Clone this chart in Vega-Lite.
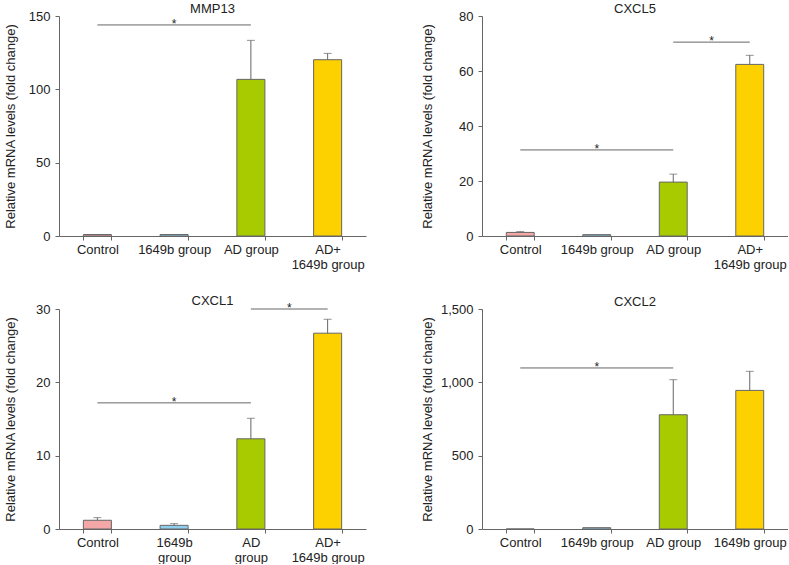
{
  "$schema": "https://vega.github.io/schema/vega-lite/v6.json",
  "padding": {"left": 3, "top": 3, "right": 0, "bottom": 0},
  "autosize": {"type": "pad"},
  "config": {
    "font": "Liberation Sans",
    "view": {"stroke": null},
    "axis": {"domainColor": "#666", "tickColor": "#666", "labelColor": "#222", "titleColor": "#222", "labelFontSize": 13, "titleFontSize": 13, "titleFontWeight": "normal", "grid": false, "tickSize": 4, "labelFont": "Liberation Sans", "titleFont": "Liberation Sans"},
    "title": {"fontSize": 13, "fontWeight": "normal", "color": "#222", "offset": -6, "frame": "group", "font": "Liberation Sans"}
  },
  "datasets": {
    "bars": [
      {"panel": "MMP13", "group": "Control", "mean": 1.0, "hi": null},
      {"panel": "MMP13", "group": "1649b", "mean": 1.0, "hi": null},
      {"panel": "MMP13", "group": "AD", "mean": 106.8, "hi": 133.4},
      {"panel": "MMP13", "group": "AD+", "mean": 120.2, "hi": 124.5},
      {"panel": "CXCL5", "group": "Control", "mean": 1.3, "hi": 1.6},
      {"panel": "CXCL5", "group": "1649b", "mean": 0.5, "hi": null},
      {"panel": "CXCL5", "group": "AD", "mean": 19.6, "hi": 22.5},
      {"panel": "CXCL5", "group": "AD+", "mean": 62.4, "hi": 65.7},
      {"panel": "CXCL1", "group": "Control", "mean": 1.19, "hi": 1.55},
      {"panel": "CXCL1", "group": "1649b", "mean": 0.5, "hi": 0.73},
      {"panel": "CXCL1", "group": "AD", "mean": 12.3, "hi": 15.1},
      {"panel": "CXCL1", "group": "AD+", "mean": 26.7, "hi": 28.6},
      {"panel": "CXCL2", "group": "Control", "mean": 0, "hi": null},
      {"panel": "CXCL2", "group": "1649b", "mean": 9, "hi": null},
      {"panel": "CXCL2", "group": "AD", "mean": 779, "hi": 1018},
      {"panel": "CXCL2", "group": "AD+", "mean": 945, "hi": 1075}
    ],
    "sig": [
      {"panel": "MMP13", "from": "Control", "to": "AD", "y": 143.9, "mid": 1},
      {"panel": "CXCL5", "from": "Control", "to": "AD", "y": 31.3, "mid": 1},
      {"panel": "CXCL5", "from": "AD", "to": "AD+", "y": 70.5, "mid": 2.5},
      {"panel": "CXCL1", "from": "Control", "to": "AD", "y": 17.2, "mid": 1},
      {"panel": "CXCL1", "from": "AD", "to": "AD+", "y": 30, "mid": 2.5},
      {"panel": "CXCL2", "from": "Control", "to": "AD", "y": 1098, "mid": 1}
    ]
  },
  "columns": 2,
  "bounds": "flush",
  "spacing": {"row": 73, "column": 116},
  "concat": [
    {
      "title": "MMP13",
      "width": 307, "height": 220,
      "resolve": {"scale": {"x": "independent"}},
      "layer": [
        {
          "layer": [
            {
              "data": {"name": "bars"},
              "transform": [{"filter": "datum.panel == 'MMP13'"}],
              "mark": {"type": "bar", "stroke": "#666", "strokeWidth": 1},
              "encoding": {
                "x": {"field": "group", "type": "nominal", "scale": {"domain": ["Control", "1649b", "AD", "AD+"], "paddingInner": 0.635, "paddingOuter": 0.3175},
                  "axis": {"title": null, "labelAngle": 0, "tickBand": "extent", "labelPadding": 3, "labelLineHeight": 15,
                    "labelExpr": "split(({'Control': 'Control', '1649b': '1649b group', 'AD': 'AD group', 'AD+': 'AD+|1649b group'})[datum.value] || '', '|')"}},
                "y": {"field": "mean", "type": "quantitative", "scale": {"domain": [0, 150], "nice": false}, "title": "Relative mRNA levels (fold change)",
                  "axis": {"values": [0, 50, 100, 150], "labelPadding": 5, "titleX": -49, "titleBaseline": "middle"}},
                "color": {"field": "group", "type": "nominal", "scale": {"domain": ["Control", "1649b", "AD", "AD+"], "range": ["#f4a7a7", "#8ecfef", "#a8cb00", "#fdd000"]}, "legend": null}
              }
            },
            {
              "data": {"name": "bars"},
              "transform": [{"filter": "datum.panel == 'MMP13' && datum.hi != null"}],
              "mark": {"type": "rule", "color": "#666"},
              "encoding": {
                "x": {"field": "group", "type": "nominal"},
                "y": {"field": "mean", "type": "quantitative", "scale": {"domain": [0, 150], "nice": false}, "title": "Relative mRNA levels (fold change)"},
                "y2": {"field": "hi"}
              }
            },
            {
              "data": {"name": "bars"},
              "transform": [{"filter": "datum.panel == 'MMP13' && datum.hi != null"}],
              "mark": {"type": "tick", "color": "#666", "size": 8, "thickness": 1},
              "encoding": {
                "x": {"field": "group", "type": "nominal"},
                "y": {"field": "hi", "type": "quantitative", "scale": {"domain": [0, 150], "nice": false}, "title": "Relative mRNA levels (fold change)"}
              }
            },
            {
              "data": {"name": "sig"},
              "transform": [{"filter": "datum.panel == 'MMP13'"}],
              "mark": {"type": "rule", "color": "#666"},
              "encoding": {
                "x": {"field": "from", "type": "nominal"},
                "x2": {"field": "to"},
                "y": {"field": "y", "type": "quantitative", "scale": {"domain": [0, 150], "nice": false}, "title": "Relative mRNA levels (fold change)"}
              }
            }
          ]
        },
        {
          "data": {"name": "sig"},
          "transform": [{"filter": "datum.panel == 'MMP13'"}],
          "mark": {"type": "text", "text": "*", "fontSize": 12, "baseline": "alphabetic", "dy": 3, "color": "#222"},
          "encoding": {
            "x": {"field": "mid", "type": "quantitative", "scale": {"domain": [-0.5, 3.5], "nice": false, "zero": false}, "axis": null},
            "y": {"field": "y", "type": "quantitative", "scale": {"domain": [0, 150], "nice": false}, "title": "Relative mRNA levels (fold change)"}
          }
        }
      ]
    },
    {
      "title": "CXCL5",
      "width": 306, "height": 220,
      "resolve": {"scale": {"x": "independent"}},
      "layer": [
        {
          "layer": [
            {
              "data": {"name": "bars"},
              "transform": [{"filter": "datum.panel == 'CXCL5'"}],
              "mark": {"type": "bar", "stroke": "#666", "strokeWidth": 1},
              "encoding": {
                "x": {"field": "group", "type": "nominal", "scale": {"domain": ["Control", "1649b", "AD", "AD+"], "paddingInner": 0.635, "paddingOuter": 0.3175},
                  "axis": {"title": null, "labelAngle": 0, "tickBand": "extent", "labelPadding": 3, "labelLineHeight": 15,
                    "labelExpr": "split(({'Control': 'Control', '1649b': '1649b group', 'AD': 'AD group', 'AD+': 'AD+|1649b group'})[datum.value] || '', '|')"}},
                "y": {"field": "mean", "type": "quantitative", "scale": {"domain": [0, 80], "nice": false}, "title": "Relative mRNA levels (fold change)",
                  "axis": {"values": [0, 20, 40, 60, 80], "labelPadding": 5, "titleX": -55, "titleBaseline": "middle"}},
                "color": {"field": "group", "type": "nominal", "scale": {"domain": ["Control", "1649b", "AD", "AD+"], "range": ["#f4a7a7", "#8ecfef", "#a8cb00", "#fdd000"]}, "legend": null}
              }
            },
            {
              "data": {"name": "bars"},
              "transform": [{"filter": "datum.panel == 'CXCL5' && datum.hi != null"}],
              "mark": {"type": "rule", "color": "#666"},
              "encoding": {
                "x": {"field": "group", "type": "nominal"},
                "y": {"field": "mean", "type": "quantitative", "scale": {"domain": [0, 80], "nice": false}, "title": "Relative mRNA levels (fold change)"},
                "y2": {"field": "hi"}
              }
            },
            {
              "data": {"name": "bars"},
              "transform": [{"filter": "datum.panel == 'CXCL5' && datum.hi != null"}],
              "mark": {"type": "tick", "color": "#666", "size": 8, "thickness": 1},
              "encoding": {
                "x": {"field": "group", "type": "nominal"},
                "y": {"field": "hi", "type": "quantitative", "scale": {"domain": [0, 80], "nice": false}, "title": "Relative mRNA levels (fold change)"}
              }
            },
            {
              "data": {"name": "sig"},
              "transform": [{"filter": "datum.panel == 'CXCL5'"}],
              "mark": {"type": "rule", "color": "#666"},
              "encoding": {
                "x": {"field": "from", "type": "nominal"},
                "x2": {"field": "to"},
                "y": {"field": "y", "type": "quantitative", "scale": {"domain": [0, 80], "nice": false}, "title": "Relative mRNA levels (fold change)"}
              }
            }
          ]
        },
        {
          "data": {"name": "sig"},
          "transform": [{"filter": "datum.panel == 'CXCL5'"}],
          "mark": {"type": "text", "text": "*", "fontSize": 12, "baseline": "alphabetic", "dy": 3, "color": "#222"},
          "encoding": {
            "x": {"field": "mid", "type": "quantitative", "scale": {"domain": [-0.5, 3.5], "nice": false, "zero": false}, "axis": null},
            "y": {"field": "y", "type": "quantitative", "scale": {"domain": [0, 80], "nice": false}, "title": "Relative mRNA levels (fold change)"}
          }
        }
      ]
    },
    {
      "title": "CXCL1",
      "width": 307, "height": 220,
      "resolve": {"scale": {"x": "independent"}},
      "layer": [
        {
          "layer": [
            {
              "data": {"name": "bars"},
              "transform": [{"filter": "datum.panel == 'CXCL1'"}],
              "mark": {"type": "bar", "stroke": "#666", "strokeWidth": 1},
              "encoding": {
                "x": {"field": "group", "type": "nominal", "scale": {"domain": ["Control", "1649b", "AD", "AD+"], "paddingInner": 0.635, "paddingOuter": 0.3175},
                  "axis": {"title": null, "labelAngle": 0, "tickBand": "extent", "labelPadding": 3, "labelLineHeight": 15,
                    "labelExpr": "split(({'Control': 'Control', '1649b': '1649b|group', 'AD': 'AD|group', 'AD+': 'AD+|1649b group'})[datum.value] || '', '|')"}},
                "y": {"field": "mean", "type": "quantitative", "scale": {"domain": [0, 30], "nice": false}, "title": "Relative mRNA levels (fold change)",
                  "axis": {"values": [0, 10, 20, 30], "labelPadding": 5, "titleX": -49, "titleBaseline": "middle"}},
                "color": {"field": "group", "type": "nominal", "scale": {"domain": ["Control", "1649b", "AD", "AD+"], "range": ["#f4a7a7", "#8ecfef", "#a8cb00", "#fdd000"]}, "legend": null}
              }
            },
            {
              "data": {"name": "bars"},
              "transform": [{"filter": "datum.panel == 'CXCL1' && datum.hi != null"}],
              "mark": {"type": "rule", "color": "#666"},
              "encoding": {
                "x": {"field": "group", "type": "nominal"},
                "y": {"field": "mean", "type": "quantitative", "scale": {"domain": [0, 30], "nice": false}, "title": "Relative mRNA levels (fold change)"},
                "y2": {"field": "hi"}
              }
            },
            {
              "data": {"name": "bars"},
              "transform": [{"filter": "datum.panel == 'CXCL1' && datum.hi != null"}],
              "mark": {"type": "tick", "color": "#666", "size": 8, "thickness": 1},
              "encoding": {
                "x": {"field": "group", "type": "nominal"},
                "y": {"field": "hi", "type": "quantitative", "scale": {"domain": [0, 30], "nice": false}, "title": "Relative mRNA levels (fold change)"}
              }
            },
            {
              "data": {"name": "sig"},
              "transform": [{"filter": "datum.panel == 'CXCL1'"}],
              "mark": {"type": "rule", "color": "#666"},
              "encoding": {
                "x": {"field": "from", "type": "nominal"},
                "x2": {"field": "to"},
                "y": {"field": "y", "type": "quantitative", "scale": {"domain": [0, 30], "nice": false}, "title": "Relative mRNA levels (fold change)"}
              }
            }
          ]
        },
        {
          "data": {"name": "sig"},
          "transform": [{"filter": "datum.panel == 'CXCL1'"}],
          "mark": {"type": "text", "text": "*", "fontSize": 12, "baseline": "alphabetic", "dy": 3, "color": "#222"},
          "encoding": {
            "x": {"field": "mid", "type": "quantitative", "scale": {"domain": [-0.5, 3.5], "nice": false, "zero": false}, "axis": null},
            "y": {"field": "y", "type": "quantitative", "scale": {"domain": [0, 30], "nice": false}, "title": "Relative mRNA levels (fold change)"}
          }
        }
      ]
    },
    {
      "title": "CXCL2",
      "width": 306, "height": 220,
      "resolve": {"scale": {"x": "independent"}},
      "layer": [
        {
          "layer": [
            {
              "data": {"name": "bars"},
              "transform": [{"filter": "datum.panel == 'CXCL2'"}],
              "mark": {"type": "bar", "stroke": "#666", "strokeWidth": 1},
              "encoding": {
                "x": {"field": "group", "type": "nominal", "scale": {"domain": ["Control", "1649b", "AD", "AD+"], "paddingInner": 0.635, "paddingOuter": 0.3175},
                  "axis": {"title": null, "labelAngle": 0, "tickBand": "extent", "labelPadding": 3, "labelLineHeight": 15,
                    "labelExpr": "split(({'Control': 'Control', '1649b': '1649b group', 'AD': 'AD group', 'AD+': '1649b group'})[datum.value] || '', '|')"}},
                "y": {"field": "mean", "type": "quantitative", "scale": {"domain": [0, 1500], "nice": false}, "title": "Relative mRNA levels (fold change)",
                  "axis": {"values": [0, 500, 1000, 1500], "format": ",.0f", "labelPadding": 5, "titleX": -55, "titleBaseline": "middle"}},
                "color": {"field": "group", "type": "nominal", "scale": {"domain": ["Control", "1649b", "AD", "AD+"], "range": ["#f4a7a7", "#8ecfef", "#a8cb00", "#fdd000"]}, "legend": null}
              }
            },
            {
              "data": {"name": "bars"},
              "transform": [{"filter": "datum.panel == 'CXCL2' && datum.hi != null"}],
              "mark": {"type": "rule", "color": "#666"},
              "encoding": {
                "x": {"field": "group", "type": "nominal"},
                "y": {"field": "mean", "type": "quantitative", "scale": {"domain": [0, 1500], "nice": false}, "title": "Relative mRNA levels (fold change)"},
                "y2": {"field": "hi"}
              }
            },
            {
              "data": {"name": "bars"},
              "transform": [{"filter": "datum.panel == 'CXCL2' && datum.hi != null"}],
              "mark": {"type": "tick", "color": "#666", "size": 8, "thickness": 1},
              "encoding": {
                "x": {"field": "group", "type": "nominal"},
                "y": {"field": "hi", "type": "quantitative", "scale": {"domain": [0, 1500], "nice": false}, "title": "Relative mRNA levels (fold change)"}
              }
            },
            {
              "data": {"name": "sig"},
              "transform": [{"filter": "datum.panel == 'CXCL2'"}],
              "mark": {"type": "rule", "color": "#666"},
              "encoding": {
                "x": {"field": "from", "type": "nominal"},
                "x2": {"field": "to"},
                "y": {"field": "y", "type": "quantitative", "scale": {"domain": [0, 1500], "nice": false}, "title": "Relative mRNA levels (fold change)"}
              }
            }
          ]
        },
        {
          "data": {"name": "sig"},
          "transform": [{"filter": "datum.panel == 'CXCL2'"}],
          "mark": {"type": "text", "text": "*", "fontSize": 12, "baseline": "alphabetic", "dy": 3, "color": "#222"},
          "encoding": {
            "x": {"field": "mid", "type": "quantitative", "scale": {"domain": [-0.5, 3.5], "nice": false, "zero": false}, "axis": null},
            "y": {"field": "y", "type": "quantitative", "scale": {"domain": [0, 1500], "nice": false}, "title": "Relative mRNA levels (fold change)"}
          }
        }
      ]
    }
  ]
}
